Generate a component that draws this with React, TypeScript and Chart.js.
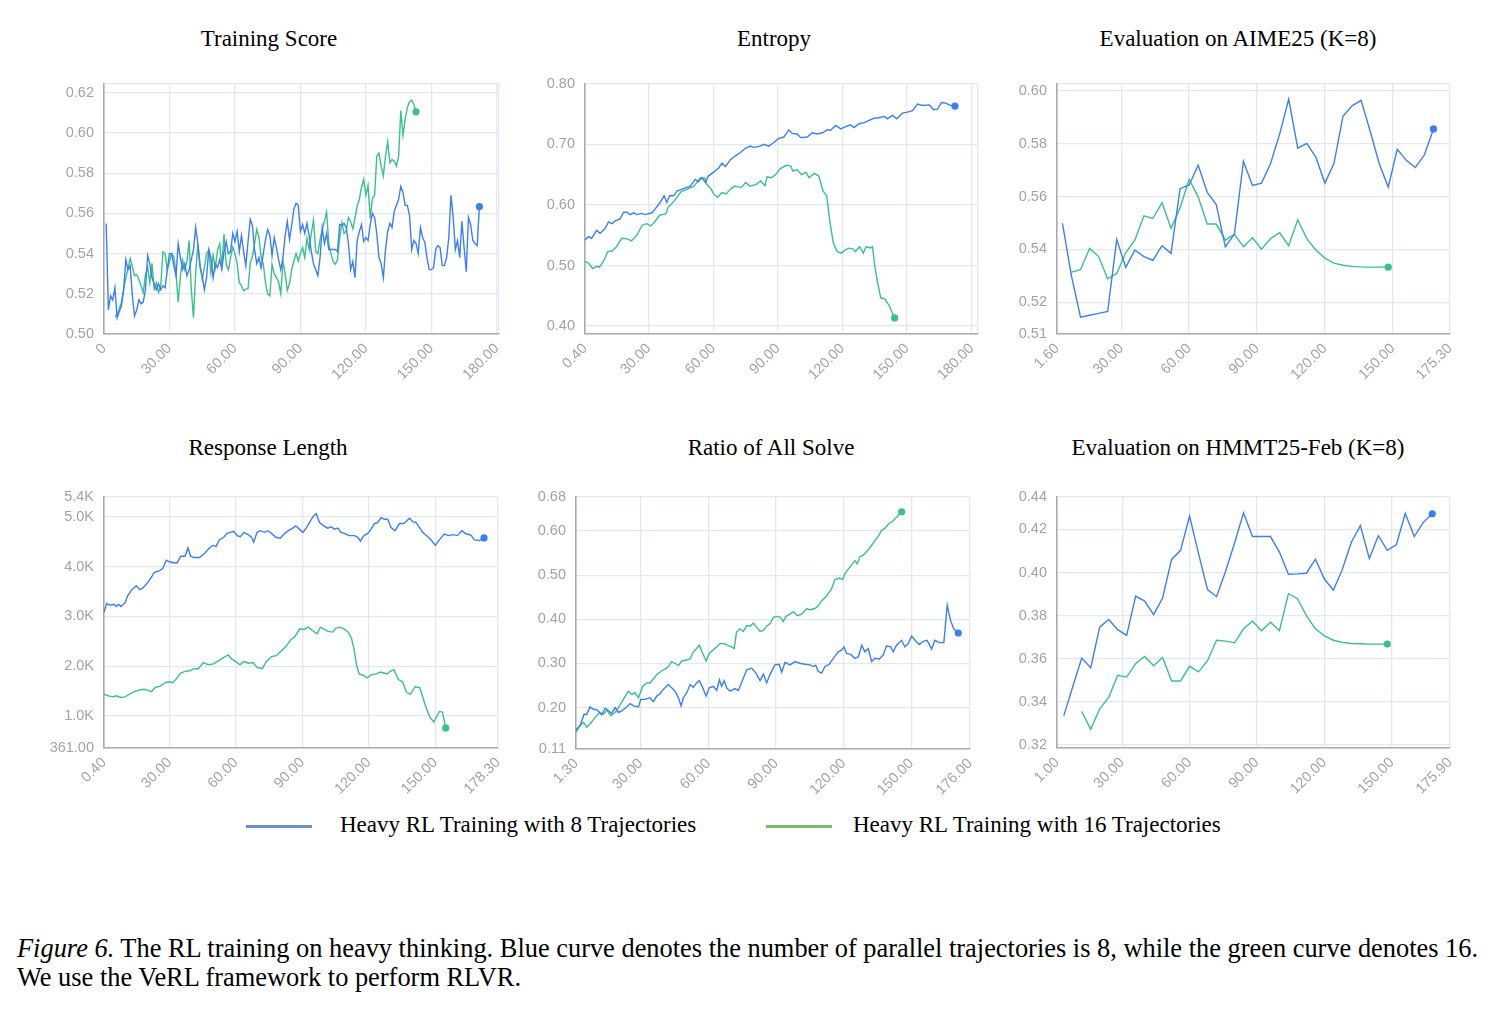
import { useEffect, useRef } from 'react';
import { Chart, registerables } from 'chart.js';

Chart.register(...registerables);

const BLUE = '#3d7ff0';
const GREEN = '#3bbf8c';
const LEGEND_BLUE = '#6e8fc6';
const LEGEND_GREEN = '#7fb96c';
const GRID = '#e2e7f0';
const AXIS = '#ababab';
const TICK_TEXT = '#a3a3a3';
const SERIF = "'Liberation Serif', 'Times New Roman', Times, serif";
const SANS = "'Liberation Sans', Arial, Helvetica, sans-serif";

// ---- Training score (one value per step) ----
const scoreStart8 = 1;
const scoreRun8 = [
  0.555, 0.512, 0.519, 0.517, 0.523, 0.508, 0.511, 0.514, 0.522, 0.537,
  0.532, 0.534, 0.519, 0.509, 0.512, 0.517, 0.515, 0.516, 0.522, 0.539,
  0.535, 0.528, 0.525, 0.522, 0.525, 0.522, 0.524, 0.523, 0.532, 0.540,
  0.540, 0.534, 0.529, 0.545, 0.538, 0.532, 0.535, 0.529, 0.532, 0.537,
  0.542, 0.553, 0.545, 0.533, 0.529, 0.522, 0.528, 0.542, 0.538, 0.528,
  0.535, 0.533, 0.537, 0.532, 0.541, 0.546, 0.540, 0.541, 0.550, 0.546,
  0.551, 0.541, 0.549, 0.541, 0.534, 0.546, 0.557, 0.554, 0.542, 0.535,
  0.538, 0.533, 0.540, 0.547, 0.552, 0.549, 0.539, 0.548, 0.543, 0.537,
  0.532, 0.538, 0.549, 0.556, 0.547, 0.554, 0.562, 0.565, 0.564,
  0.551, 0.5545, 0.550, 0.555, 0.549, 0.541, 0.535, 0.532, 0.529, 0.538,
  0.553, 0.545, 0.550, 0.542, 0.542, 0.542, 0.542, 0.541, 0.5545, 0.554,
  0.555, 0.553, 0.545, 0.532, 0.536, 0.528, 0.5465, 0.551, 0.5545, 0.546,
  0.548, 0.5465, 0.5545, 0.560, 0.558, 0.550, 0.538, 0.535, 0.528, 0.542,
  0.551, 0.555, 0.553, 0.561, 0.564, 0.567, 0.5734, 0.5706, 0.564, 0.564,
  0.559, 0.542, 0.5465, 0.545, 0.540, 0.553, 0.548, 0.5456, 0.538, 0.532,
  0.532, 0.533, 0.542, 0.544, 0.543, 0.534, 0.534, 0.538, 0.548, 0.569,
  0.558, 0.542, 0.5465, 0.538, 0.556, 0.543, 0.531, 0.558, 0.5545, 0.5465,
  0.545, 0.544, 0.5634,
];
const scoreStart16 = 5;
const scoreRun16 = [
  0.5085, 0.510, 0.5126, 0.5158, 0.5223, 0.5279, 0.5327, 0.5376, 0.5335, 0.529,
  0.5295, 0.5271, 0.5239, 0.5206, 0.5295, 0.5335, 0.5255, 0.5352, 0.5223, 0.5255,
  0.5206, 0.5239, 0.5408, 0.540, 0.5319, 0.536, 0.540, 0.5384, 0.530, 0.5158,
  0.5287, 0.5368, 0.5319, 0.536, 0.5465, 0.5223, 0.5081, 0.530, 0.5448, 0.5352,
  0.5271, 0.533, 0.540, 0.5416, 0.5303, 0.5392, 0.533, 0.5416, 0.5448, 0.5335,
  0.5497, 0.5344, 0.5319, 0.538, 0.5432, 0.540, 0.5352, 0.5255, 0.5239, 0.5215,
  0.5223, 0.5225, 0.5352, 0.5384, 0.545, 0.5521, 0.5481, 0.5384, 0.5347, 0.5255,
  0.520, 0.519, 0.5347, 0.530, 0.528, 0.526, 0.520, 0.5363, 0.530, 0.5217,
  0.525, 0.532, 0.5363, 0.540, 0.5363, 0.540, 0.543, 0.538, 0.5477, 0.542,
  0.550, 0.5567, 0.541, 0.540, 0.547, 0.552, 0.556, 0.5607, 0.545, 0.540,
  0.536, 0.5347, 0.537, 0.548, 0.5553, 0.550, 0.5513, 0.558, 0.556, 0.5523,
  0.5577, 0.5634, 0.567, 0.573, 0.577, 0.569, 0.574, 0.5575, 0.5674, 0.569,
  0.5884, 0.590, 0.5835, 0.5787, 0.5884, 0.5957, 0.5852, 0.5868, 0.586, 0.5835,
  0.5884, 0.611, 0.5989, 0.6069, 0.6126, 0.6155, 0.6164, 0.6142, 0.6105,
];

// ---- Entropy: [step, value] ----
const entropyRun8 = [
  [0.4, 0.542], [2, 0.5476], [3.5, 0.545], [5.8, 0.558], [7.4, 0.553], [9.7, 0.561],
  [11.3, 0.572], [13, 0.569], [14.4, 0.5735], [16.7, 0.577], [18.3, 0.588], [19.9, 0.588],
  [21.4, 0.584], [23, 0.587], [24.5, 0.584], [26.8, 0.586], [28.3, 0.584], [31.5, 0.587],
  [33, 0.5935], [35.3, 0.604], [37.2, 0.615], [38.4, 0.604], [39.7, 0.615], [41.6, 0.615],
  [43.1, 0.623], [46.2, 0.627], [49.3, 0.631], [51.6, 0.642], [53.1, 0.638], [54.7, 0.645],
  [56.3, 0.637], [57.8, 0.648], [60.2, 0.654], [62.5, 0.661], [64.1, 0.669], [65.6, 0.663],
  [68, 0.6746], [70.3, 0.681], [72.6, 0.6865], [74.9, 0.6935], [77.2, 0.697], [78.7, 0.695],
  [81.9, 0.697], [83.5, 0.7], [85.8, 0.697], [88.1, 0.703], [90.4, 0.7097], [92.8, 0.712],
  [95.1, 0.724], [96.7, 0.718], [99, 0.717], [100.6, 0.711], [103.7, 0.712], [106, 0.719],
  [108.3, 0.717], [110.7, 0.719], [113, 0.724], [114.5, 0.723], [116.9, 0.731], [119.2, 0.7254],
  [121.5, 0.729], [123.8, 0.732], [125.4, 0.7276], [127.7, 0.734], [130.1, 0.7357], [132.4, 0.7395],
  [134.7, 0.743], [137, 0.7438], [139.4, 0.746], [140.9, 0.742], [143.3, 0.7476], [145.3, 0.742],
  [147.9, 0.7514], [150.2, 0.753], [152.6, 0.7557], [154.9, 0.7665], [157.2, 0.764], [160.4, 0.765],
  [162.4, 0.757], [164.2, 0.758], [166, 0.769], [168, 0.768], [170.4, 0.764], [172.3, 0.763],
];
const entropyRun16 = [
  [0.4, 0.507], [2, 0.504], [4, 0.495], [6, 0.499], [7, 0.497], [9, 0.507], [11, 0.523],
  [13, 0.524], [15, 0.531], [17.5, 0.545], [20, 0.544], [22, 0.5405], [24.5, 0.55], [27, 0.5665],
  [29, 0.569], [31, 0.5654], [33, 0.573], [35, 0.5827], [38, 0.5854], [39, 0.596], [42, 0.607],
  [45, 0.6216], [48, 0.626], [51, 0.631], [54, 0.645], [56, 0.644], [57, 0.634], [59, 0.626],
  [60, 0.619], [62, 0.6124], [64, 0.6205], [66, 0.618], [68, 0.626], [70, 0.631], [73, 0.6286],
  [75, 0.637], [77, 0.631], [80, 0.634], [82, 0.6395], [84, 0.632], [85, 0.6465], [87, 0.645],
  [89, 0.65], [91, 0.6595], [94, 0.6654], [96, 0.664], [97, 0.6557], [99, 0.658], [101, 0.65],
  [103, 0.654], [104.5, 0.645], [107, 0.652], [109, 0.6476], [111, 0.623], [112.7, 0.615],
  [114.2, 0.572], [115.8, 0.5368], [117.6, 0.523], [119.5, 0.5205], [121, 0.525], [123, 0.5286],
  [125, 0.527], [126, 0.523], [128, 0.531], [129.7, 0.5205], [131, 0.531], [133, 0.529],
  [134, 0.531], [135, 0.5], [136.2, 0.4746], [137.8, 0.4465], [139.7, 0.445], [141.7, 0.434],
  [144.3, 0.4135],
];

// ---- AIME25 evaluation, every 4 steps ----
const evalStride = 4;
const aimeStart8 = 4;
const aimeRun8 = [
  0.5499, 0.5299, 0.5144, 0.5151, 0.5158, 0.5165, 0.5438, 0.5332, 0.5398, 0.5373,
  0.5359, 0.5414, 0.5385, 0.5630, 0.5644, 0.5719, 0.5616, 0.5570, 0.5410, 0.5457,
  0.5733, 0.5642, 0.5651, 0.5725, 0.5836, 0.5968, 0.5783, 0.5801, 0.5749, 0.5651,
  0.5725, 0.5904, 0.5943, 0.5964, 0.5848, 0.5725, 0.5636, 0.5779, 0.5737, 0.5710,
  0.5758, 0.5856,
];
const aimeStart16 = 8;
const aimeRun16 = [
  0.5314, 0.5323, 0.5404, 0.5373, 0.5289, 0.5309, 0.5388, 0.5435, 0.5527, 0.5517,
  0.5577, 0.5480, 0.5558, 0.5665, 0.5599, 0.5496, 0.5496, 0.5435, 0.5458, 0.5410,
  0.5444, 0.5401, 0.5441, 0.5463, 0.5414, 0.5512, 0.5441, 0.5398, 0.5367, 0.5348,
  0.5340, 0.5336, 0.5334, 0.5333, 0.5333, 0.5333,
];

// ---- Response length: [step, tokens] ----
const lengthRun8 = [
  [0.4, 3079], [1.6, 3262], [3, 3223], [5, 3242], [6, 3197], [7, 3242], [8, 3197], [10, 3275],
  [11, 3406], [13, 3537], [15, 3616], [16.5, 3537], [18, 3570], [20, 3669], [22, 3800], [23, 3878],
  [25.5, 3918], [27, 3964], [28.5, 4128], [30, 4095], [31.5, 4075], [33.5, 4075], [35, 4206],
  [37, 4206], [38.3, 4377], [39.5, 4206], [41, 4180], [43.5, 4180], [46, 4272], [48, 4370],
  [49.5, 4423], [51, 4403], [52.5, 4534], [54.5, 4587], [56, 4665], [57.5, 4685], [59, 4705],
  [60.5, 4620], [62, 4600], [63.5, 4685], [65, 4652], [67, 4587], [68, 4488], [69.5, 4685],
  [71, 4718], [73, 4685], [74.4, 4718], [76, 4665], [78, 4587], [80, 4567], [82, 4665],
  [84, 4731], [85.6, 4770], [87, 4816], [88.6, 4750], [90.2, 4685], [91.7, 4770], [93.6, 4914],
  [95, 5013], [96.2, 5059], [97.7, 4882], [99.6, 4816], [101.4, 4770], [103, 4796], [104.4, 4750],
  [106, 4770], [107.4, 4685], [109, 4665], [111, 4620], [113.5, 4620], [115, 4587], [116.2, 4508],
  [117.7, 4620], [119.5, 4665], [121, 4750], [122.5, 4862], [124, 4882], [125.5, 4980],
  [127, 4947], [128.5, 4947], [130, 4783], [131.8, 4718], [133.8, 4862], [135.7, 4862],
  [136.8, 4901], [138.3, 4967], [139.8, 4901], [141.3, 4882], [142.8, 4783], [144.3, 4685],
  [146.5, 4600], [148.3, 4521], [150, 4423], [151.8, 4534], [154, 4652], [156, 4620], [158, 4639],
  [160, 4620], [162, 4718], [164, 4652], [166, 4633], [167.6, 4534], [170, 4521], [172, 4574],
];
const lengthRun16 = [
  [0.4, 1439], [2.4, 1407], [4.3, 1387], [6.1, 1407], [7.9, 1374], [9.9, 1387], [11.8, 1439],
  [13.9, 1485], [16.3, 1525], [18.4, 1538], [20.4, 1518], [21.9, 1492], [23.4, 1570], [25.7, 1603],
  [27.9, 1669], [29.4, 1688], [31.4, 1669], [33.2, 1754], [35, 1865], [37, 1898], [39.2, 1911],
  [41, 1951], [43, 1951], [45.2, 2075], [47.5, 2030], [49.8, 2049], [52, 2108], [54.3, 2174],
  [56.5, 2226], [58, 2147], [60, 2095], [61.8, 2030], [63.6, 2095], [65.5, 2062], [67.7, 2075],
  [69.5, 1977], [71.9, 1951], [73.7, 2095], [76, 2193], [78.2, 2213], [80, 2292], [82.4, 2390],
  [84.5, 2521], [86.5, 2587], [88.8, 2751], [90.6, 2738], [92.6, 2784], [94.5, 2718], [96.6, 2652],
  [98.1, 2784], [99.6, 2751], [101.6, 2698], [103.6, 2685], [105.1, 2764], [107, 2784],
  [108.7, 2751], [110.7, 2685], [112.2, 2554], [113.2, 2357], [114.4, 2030], [115.6, 1846],
  [117.4, 1820], [119.2, 1767], [121.2, 1833], [123.4, 1846], [125.2, 1885], [126.8, 1865],
  [128.3, 1846], [129.5, 1898], [131.3, 1931], [133.3, 1734], [135.2, 1688], [137, 1472],
  [138.8, 1439], [140.8, 1590], [143, 1570], [145.3, 1243], [147.5, 980], [149.3, 882],
  [150.5, 980], [152, 1098], [153.2, 1079], [154.7, 764],
];

// ---- Ratio of all solve: [step, ratio] ----
const solveRun8 = [
  [1.3, 0.1494], [3.1, 0.159], [4.9, 0.185], [6, 0.184], [7.5, 0.2015], [9, 0.196], [10.8, 0.194],
  [12.7, 0.1836], [14.2, 0.1985], [15.7, 0.1926], [17.1, 0.1866], [18.6, 0.2], [20.1, 0.1888],
  [21.6, 0.1926], [23.5, 0.2], [25.3, 0.209], [26.8, 0.2037], [29, 0.2015], [30, 0.2186],
  [31.9, 0.2186], [34.1, 0.2223], [35.6, 0.2134], [37.1, 0.226], [38.6, 0.2312], [40, 0.241],
  [42.3, 0.252], [43.7, 0.2446], [45.2, 0.2372], [46.7, 0.2223], [47.9, 0.2037], [48.9, 0.2223],
  [50.4, 0.2335], [51.9, 0.252], [53.3, 0.246], [54.8, 0.2558], [56, 0.261], [57.5, 0.2446],
  [59, 0.226], [60.4, 0.2446], [62.2, 0.2483], [63.7, 0.2387], [64.9, 0.2632], [65.9, 0.2483],
  [67, 0.261], [68.1, 0.2446], [69.6, 0.2372], [71.8, 0.243], [73.3, 0.2387], [75.2, 0.2632],
  [77, 0.2855], [79.2, 0.2892], [81.1, 0.278], [82.9, 0.261], [84.4, 0.2758], [85.8, 0.2558],
  [87.6, 0.278], [89.5, 0.2967], [91.4, 0.2981], [92.5, 0.28], [94, 0.3026], [96.2, 0.2967],
  [98.4, 0.3041], [100.6, 0.3004], [102.8, 0.2981], [105, 0.2967], [106.5, 0.293], [107.6, 0.296],
  [108.7, 0.2818], [110.2, 0.278], [111.7, 0.293], [113.6, 0.2981], [115.4, 0.3115], [117.6, 0.3264],
  [119.1, 0.3301], [120.1, 0.3375], [121.3, 0.3227], [123.1, 0.3205], [125, 0.3115], [126.5, 0.3152],
  [128, 0.3413], [129.4, 0.3264], [130.9, 0.3338], [132.4, 0.3041], [133.8, 0.3115], [135.8, 0.31],
  [137.5, 0.319], [139, 0.3398], [140.8, 0.3375], [142, 0.3264], [143.4, 0.3413], [145.7, 0.3524],
  [147.1, 0.3375], [148.6, 0.345], [150.1, 0.3621], [152, 0.3502], [153.5, 0.3428], [155.3, 0.3502],
  [157, 0.3524], [159, 0.3323], [160.4, 0.3524], [162.4, 0.3472], [164.4, 0.3472], [165.9, 0.432],
  [167.4, 0.397], [168.8, 0.3784], [170.8, 0.3688],
];
const solveRun16 = [
  [1.3, 0.1442], [2.8, 0.157], [4.6, 0.1665], [6.1, 0.1554], [7.8, 0.1643], [9.8, 0.1777],
  [11.7, 0.1888], [13.5, 0.1851], [15, 0.194], [16.7, 0.1814], [18.6, 0.1888], [20.1, 0.2],
  [22.3, 0.2186], [24.5, 0.2372], [26, 0.2297], [27.5, 0.2335], [29, 0.2223], [30.9, 0.2483],
  [32.7, 0.2558], [34.1, 0.2558], [35.9, 0.2669], [37.4, 0.2758], [38.9, 0.2818], [40.8, 0.2877],
  [42.3, 0.2929], [43.7, 0.3041], [45.2, 0.3004], [46.7, 0.2952], [48.2, 0.3056], [50.4, 0.3078],
  [51.9, 0.31], [53.3, 0.3264], [54.8, 0.3338], [56, 0.3413], [57.5, 0.3227], [59, 0.3056],
  [60.4, 0.3227], [61.9, 0.3301], [63.7, 0.3375], [65.2, 0.345], [67, 0.345], [68.4, 0.3413],
  [70.3, 0.3375], [71.4, 0.3338], [72.5, 0.371], [74, 0.3784], [75.5, 0.3725], [77, 0.3859],
  [78.5, 0.3844], [79.9, 0.3918], [81.4, 0.3822], [82.9, 0.3725], [84.4, 0.3747], [85.8, 0.3844],
  [87.6, 0.3918], [88.8, 0.4045], [90.3, 0.4067], [92, 0.4045], [93.2, 0.3948], [94.4, 0.4067],
  [96.2, 0.4119], [97.7, 0.4171], [99.4, 0.4082], [101.3, 0.4119], [103.6, 0.4245], [105, 0.4216],
  [107.3, 0.4245], [108.7, 0.4305], [110.2, 0.4416], [112.4, 0.4528], [114.6, 0.4691], [116.1, 0.49],
  [118, 0.4937], [119.5, 0.49], [120.5, 0.5033], [122, 0.5138], [123.5, 0.5234], [125, 0.5331],
  [126, 0.5257], [127.2, 0.542], [128.7, 0.5457], [130.5, 0.5554], [132.4, 0.568], [133.8, 0.5777],
  [135.3, 0.5881], [136.8, 0.6015], [138.3, 0.6067], [140.2, 0.6178], [141.7, 0.6223],
  [143.4, 0.6312], [145.7, 0.6439],
];

// ---- HMMT25-Feb evaluation, every 4 steps ----
const hmmtStart8 = 4;
const hmmtRun8 = [
  0.3335, 0.3470, 0.3603, 0.3558, 0.3747, 0.3782, 0.3735, 0.3709, 0.3891, 0.3868,
  0.3805, 0.3882, 0.4061, 0.4103, 0.4262, 0.4088, 0.3921, 0.3888, 0.4005, 0.4136,
  0.4277, 0.4167, 0.4167, 0.4167, 0.4095, 0.3992, 0.3994, 0.3997, 0.4062, 0.3970,
  0.3918, 0.4015, 0.4141, 0.4218, 0.4065, 0.4171, 0.4103, 0.4129, 0.4274, 0.4167,
  0.4233, 0.4273,
];
const hmmtStart16 = 12;
const hmmtRun16 = [
  0.3356, 0.3273, 0.3368, 0.3421, 0.3523, 0.3515, 0.3577, 0.3611, 0.3568, 0.3606,
  0.3497, 0.3497, 0.3565, 0.3539, 0.3591, 0.3686, 0.3682, 0.3674, 0.3739, 0.3774,
  0.3730, 0.3770, 0.3730, 0.3903, 0.3879, 0.3800, 0.3739, 0.3706, 0.3686, 0.3676,
  0.3671, 0.3670, 0.3668, 0.3668, 0.3668,
];

// ---- Axis ticks and their labels ----
const stepTicks = [30, 60, 90, 120, 150];
const stepLabels = ['30.00', '60.00', '90.00', '120.00', '150.00'];

const scoreXTicks = [0, ...stepTicks, 180, 181];
const scoreXLabels = ['0', ...stepLabels, '180.00', ''];
const scoreYTicks = [0.5, 0.52, 0.54, 0.56, 0.58, 0.6, 0.62, 0.6245];
const scoreYLabels = ['0.50', '0.52', '0.54', '0.56', '0.58', '0.60', '0.62', ''];

const entropyXTicks = [0.4, ...stepTicks, 180, 183];
const entropyXLabels = ['0.40', ...stepLabels, '180.00', ''];
const entropyYTicks = [0.387, 0.4, 0.5, 0.6, 0.7, 0.8];
const entropyYLabels = ['', '0.40', '0.50', '0.60', '0.70', '0.80'];

const aimeXTicks = [1.6, ...stepTicks, 175.3];
const aimeXLabels = ['1.60', ...stepLabels, '175.30'];
const aimeYTicks = [0.508, 0.52, 0.54, 0.56, 0.58, 0.6, 0.6027];
const aimeYLabels = ['0.51', '0.52', '0.54', '0.56', '0.58', '0.60', ''];

const lengthXTicks = [0.4, ...stepTicks, 178.3];
const lengthXLabels = ['0.40', ...stepLabels, '178.30'];
const lengthYTicks = [361, 1000, 2000, 3000, 4000, 5000, 5400];
const lengthYLabels = ['361.00', '1.0K', '2.0K', '3.0K', '4.0K', '5.0K', '5.4K'];

const solveXTicks = [1.3, ...stepTicks, 176];
const solveXLabels = ['1.30', ...stepLabels, '176.00'];
const solveYTicks = [0.106, 0.2, 0.3, 0.4, 0.5, 0.6, 0.678];
const solveYLabels = ['0.11', '0.20', '0.30', '0.40', '0.50', '0.60', '0.68'];

const hmmtXTicks = [1, ...stepTicks, 175.9];
const hmmtXLabels = ['1.00', ...stepLabels, '175.90'];
const hmmtYTicks = [0.3186, 0.32, 0.34, 0.36, 0.38, 0.4, 0.42, 0.4352];
const hmmtYLabels = ['', '0.32', '0.34', '0.36', '0.38', '0.40', '0.42', '0.44'];

type Pt = { x: number; y: number };
const runPoints = (values: number[], start: number, stride = 1): Pt[] =>
  values.map((y, i) => ({ x: start + i * stride, y }));
const pairPoints = (pairs: number[][]): Pt[] => pairs.map(([x, y]) => ({ x, y }));

interface Series { points: Pt[]; color: string }
interface Panel {
  title: string;
  titleCenter: number;
  titleBaseline: number;
  left: number; top: number; right: number; bottom: number;
  xTicks: number[]; xLabels: string[];
  yTicks: number[]; yLabels: string[];
  series: Series[];
}

const panels: Panel[] = [
  {
    title: 'Training Score', titleCenter: 269, titleBaseline: 46,
    left: 104, top: 79, right: 499, bottom: 334,
    xTicks: scoreXTicks, xLabels: scoreXLabels, yTicks: scoreYTicks, yLabels: scoreYLabels,
    series: [
      { points: runPoints(scoreRun8, scoreStart8), color: BLUE },
      { points: runPoints(scoreRun16, scoreStart16), color: GREEN },
    ],
  },
  {
    title: 'Entropy', titleCenter: 774, titleBaseline: 46,
    left: 585, top: 79, right: 978, bottom: 334,
    xTicks: entropyXTicks, xLabels: entropyXLabels, yTicks: entropyYTicks, yLabels: entropyYLabels,
    series: [
      { points: pairPoints(entropyRun8), color: BLUE },
      { points: pairPoints(entropyRun16), color: GREEN },
    ],
  },
  {
    title: 'Evaluation on AIME25 (K=8)', titleCenter: 1238, titleBaseline: 46,
    left: 1057, top: 79, right: 1450, bottom: 334,
    xTicks: aimeXTicks, xLabels: aimeXLabels, yTicks: aimeYTicks, yLabels: aimeYLabels,
    series: [
      { points: runPoints(aimeRun8, aimeStart8, evalStride), color: BLUE },
      { points: runPoints(aimeRun16, aimeStart16, evalStride), color: GREEN },
    ],
  },
  {
    title: 'Response Length', titleCenter: 268, titleBaseline: 455,
    left: 104, top: 492, right: 498, bottom: 748,
    xTicks: lengthXTicks, xLabels: lengthXLabels, yTicks: lengthYTicks, yLabels: lengthYLabels,
    series: [
      { points: pairPoints(lengthRun8), color: BLUE },
      { points: pairPoints(lengthRun16), color: GREEN },
    ],
  },
  {
    title: 'Ratio of All Solve', titleCenter: 771, titleBaseline: 455,
    left: 576, top: 492, right: 970, bottom: 749,
    xTicks: solveXTicks, xLabels: solveXLabels, yTicks: solveYTicks, yLabels: solveYLabels,
    series: [
      { points: pairPoints(solveRun8), color: BLUE },
      { points: pairPoints(solveRun16), color: GREEN },
    ],
  },
  {
    title: 'Evaluation on HMMT25-Feb (K=8)', titleCenter: 1238, titleBaseline: 455,
    left: 1057, top: 492, right: 1450, bottom: 748,
    xTicks: hmmtXTicks, xLabels: hmmtXLabels, yTicks: hmmtYTicks, yLabels: hmmtYLabels,
    series: [
      { points: runPoints(hmmtRun8, hmmtStart8, evalStride), color: BLUE },
      { points: runPoints(hmmtRun16, hmmtStart16, evalStride), color: GREEN },
    ],
  },
];

// Fixed box sizes around each plot so the plot rectangle lands exactly where wanted.
const AXIS_W = 80;
const AXIS_H = 62;
const PAD_TOP = 14;
const PAD_RIGHT = 24;

const labelFor = (ticks: number[], labels: string[]) => (value: number | string) => {
  const v = Number(value);
  const i = ticks.findIndex((t) => Math.abs(t - v) < 1e-9);
  return i >= 0 ? labels[i] : '';
};

function PanelChart({ panel }: { panel: Panel }) {
  const ref = useRef<HTMLCanvasElement>(null);
  const width = panel.right - panel.left + AXIS_W + PAD_RIGHT;
  const height = panel.bottom - panel.top + PAD_TOP + AXIS_H;

  useEffect(() => {
    const canvas = ref.current;
    if (!canvas) return;
    const xs = panel.xTicks;
    const ys = panel.yTicks;
    const tickFont = { family: SANS, size: 14.5 };
    const chart = new Chart(canvas, {
      type: 'line',
      data: {
        datasets: panel.series.map((s) => ({
          data: s.points,
          borderColor: s.color,
          backgroundColor: s.color,
          borderWidth: 1.4,
          tension: 0,
          fill: false,
          pointRadius: (ctx: any) => (ctx.dataIndex === s.points.length - 1 ? 3.6 : 0),
          pointHoverRadius: 0,
          pointBorderWidth: 0,
          pointBackgroundColor: s.color,
          clip: false as any,
        })),
      },
      options: {
        responsive: false,
        animation: false,
        events: [],
        layout: { padding: { left: 0, top: PAD_TOP, right: PAD_RIGHT, bottom: 0 } },
        plugins: { legend: { display: false }, tooltip: { enabled: false }, title: { display: false } },
        scales: {
          x: {
            type: 'linear',
            min: xs[0],
            max: xs[xs.length - 1],
            afterBuildTicks: (scale: any) => {
              scale.ticks = xs.map((value) => ({ value }));
            },
            afterFit: (scale: any) => {
              scale.height = AXIS_H;
            },
            grid: { color: GRID, lineWidth: 1.3, drawTicks: false },
            border: { display: true, color: AXIS, width: 1.6 },
            ticks: {
              autoSkip: false,
              minRotation: 45,
              maxRotation: 45,
              padding: 6,
              color: TICK_TEXT,
              font: tickFont,
              callback: labelFor(xs, panel.xLabels),
            },
          },
          y: {
            type: 'linear',
            min: ys[0],
            max: ys[ys.length - 1],
            afterBuildTicks: (scale: any) => {
              scale.ticks = ys.map((value) => ({ value }));
            },
            afterFit: (scale: any) => {
              scale.width = AXIS_W;
            },
            grid: { color: GRID, lineWidth: 1.3, drawTicks: false },
            border: { display: true, color: AXIS, width: 1.6 },
            ticks: {
              autoSkip: false,
              padding: 10,
              color: TICK_TEXT,
              font: tickFont,
              callback: labelFor(ys, panel.yLabels),
            },
          },
        },
      } as any,
    });
    return () => chart.destroy();
  }, [panel]);

  return (
    <canvas
      ref={ref}
      width={width}
      height={height}
      style={{ position: 'absolute', left: panel.left - AXIS_W, top: panel.top - PAD_TOP, width, height }}
    />
  );
}

const serifText = (size: number, lineHeight: number) => ({
  position: 'absolute' as const,
  fontFamily: SERIF,
  fontSize: size,
  lineHeight: `${lineHeight}px`,
  color: '#000',
  whiteSpace: 'nowrap' as const,
});

export default function App() {
  return (
    <div style={{ position: 'absolute', left: 0, top: 0, width: 1496, height: 1009, background: '#fff', overflow: 'hidden' }}>
      {panels.map((p) => (
        <div key={p.title}>
          <div style={{ ...serifText(23, 23), left: p.titleCenter - 300, width: 600, top: p.titleBaseline - 19.3, textAlign: 'center' }}>
            {p.title}
          </div>
          <PanelChart panel={p} />
        </div>
      ))}

      <div style={{ position: 'absolute', left: 246, top: 824.5, width: 66, height: 3, background: LEGEND_BLUE }} />
      <div style={{ ...serifText(23, 23), left: 340, top: 832 - 19.3 }}>Heavy RL Training with 8 Trajectories</div>
      <div style={{ position: 'absolute', left: 766, top: 824.5, width: 66, height: 3, background: LEGEND_GREEN }} />
      <div style={{ ...serifText(23, 23), left: 853, top: 832 - 19.3 }}>Heavy RL Training with 16 Trajectories</div>

      <div style={{ ...serifText(26.4, 29), left: 17, top: 957 - 23.4 }}>
        <i>Figure 6.</i> The RL training on heavy thinking. Blue curve denotes the number of parallel trajectories is 8, while the green curve denotes 16.
        <br />
        We use the VeRL framework to perform RLVR.
      </div>
    </div>
  );
}
